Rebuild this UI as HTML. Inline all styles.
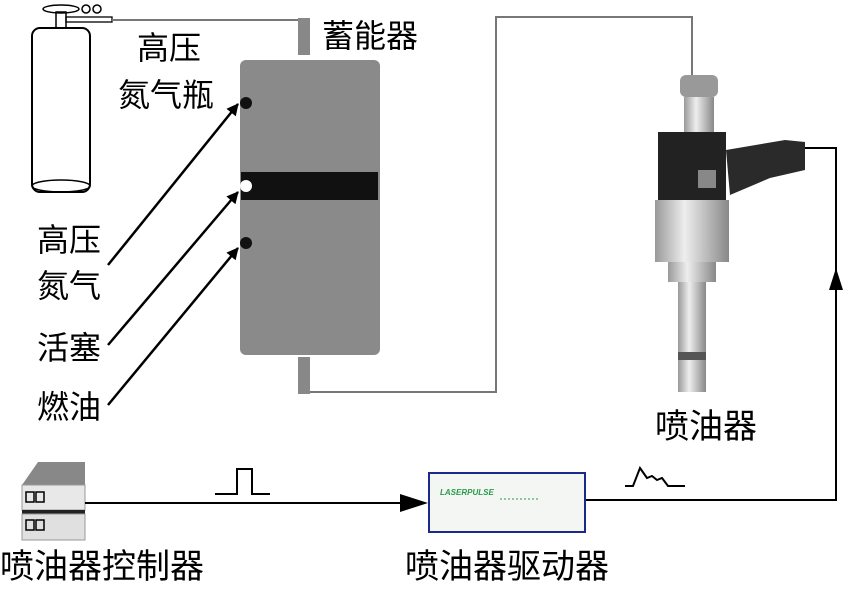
<!DOCTYPE html>
<html><head><meta charset="utf-8"><style>
body{margin:0;background:#fff}
svg{display:block}
text{font-family:"Liberation Sans","Noto Sans CJK SC",sans-serif;fill:#000}
</style></head><body>
<svg width="850" height="589" viewBox="0 0 850 589" xmlns="http://www.w3.org/2000/svg">
<defs><marker id="ah" markerWidth="12" markerHeight="12" refX="11" refY="6" orient="auto" markerUnits="userSpaceOnUse"><path d="M0,0 L12,6 L0,12 z" fill="#000"/></marker>
<linearGradient id="met" x1="0" x2="1"><stop offset="0" stop-color="#999"/><stop offset=".4" stop-color="#eee"/><stop offset="1" stop-color="#888"/></linearGradient></defs>
<!-- gas bottle -->
<rect x="32" y="28" width="58" height="164" rx="8" fill="none" stroke="#000" stroke-width="2"/>
<ellipse cx="61" cy="186" rx="29" ry="6" fill="none" stroke="#000" stroke-width="1.5"/>
<rect x="56" y="12" width="10" height="16" fill="none" stroke="#000" stroke-width="1.5"/>
<ellipse cx="61" cy="9" rx="18" ry="4" fill="none" stroke="#000" stroke-width="1.5"/>
<circle cx="86" cy="9" r="4" fill="none" stroke="#000" stroke-width="1.5"/>
<circle cx="97" cy="9" r="4" fill="none" stroke="#000" stroke-width="1.5"/>
<rect x="66" y="17" width="46" height="5" fill="none" stroke="#000" stroke-width="1.3"/>
<polyline points="112,20 302,20 302,30" fill="none" stroke="#777" stroke-width="2"/>
<!-- accumulator -->
<rect x="298" y="18" width="12" height="37" fill="#888"/>
<rect x="240" y="60" width="140" height="295" rx="6" fill="#8a8a8a"/>
<rect x="241" y="172" width="137" height="28" fill="#111"/>
<circle cx="246" cy="103" r="6" fill="#111"/>
<circle cx="246" cy="186" r="6" fill="#fff"/>
<circle cx="246" cy="243" r="6" fill="#111"/>
<rect x="298" y="357" width="12" height="37" fill="#888"/>
<polyline points="310,392 496,392 496,17 692,17 692,75" fill="none" stroke="#777" stroke-width="2"/>
<!-- arrows -->
<line x1="108" y1="265" x2="238" y2="104" stroke="#000" stroke-width="2.5" marker-end="url(#ah)"/>
<line x1="108" y1="345" x2="238" y2="192" stroke="#000" stroke-width="2.5" marker-end="url(#ah)"/>
<line x1="108" y1="405" x2="238" y2="248" stroke="#000" stroke-width="2.5" marker-end="url(#ah)"/>
<!-- injector -->
<rect x="680" y="75" width="38" height="22" rx="6" fill="#999"/>
<rect x="684" y="97" width="30" height="35" fill="url(#met)"/>
<rect x="658" y="132" width="68" height="70" fill="#222"/>
<polygon points="726,150 785,140 805,142 805,170 770,178 730,195" fill="#2a2a2a"/>
<rect x="698" y="170" width="18" height="18" fill="#888"/>
<rect x="655" y="200" width="74" height="62" fill="url(#met)"/>
<rect x="668" y="262" width="48" height="20" fill="url(#met)"/>
<rect x="678" y="282" width="28" height="110" fill="url(#met)"/>
<rect x="678" y="352" width="28" height="8" fill="#555"/>
<!-- lines right -->
<polyline points="805,148 836,148 836,500 585,500" fill="none" stroke="#000" stroke-width="2"/>
<polygon points="836,268 829,290 843,290" fill="#000"/>
<!-- controller -->
<polygon points="22,485 38,462 85,462 85,485" fill="#888"/>
<rect x="22" y="485" width="63" height="25" fill="#e8e8e8" stroke="#999"/>
<rect x="22" y="510" width="63" height="4" fill="#222"/>
<rect x="22" y="514" width="63" height="26" fill="#e0e0e0" stroke="#999"/>
<rect x="26" y="492" width="8" height="10" fill="none" stroke="#000" stroke-width="1.5"/><rect x="36" y="492" width="8" height="10" fill="none" stroke="#000" stroke-width="1.5"/>
<rect x="26" y="520" width="8" height="10" fill="none" stroke="#000" stroke-width="1.5"/><rect x="36" y="520" width="8" height="10" fill="none" stroke="#000" stroke-width="1.5"/>
<line x1="85" y1="503" x2="420" y2="503" stroke="#000" stroke-width="2"/>
<polygon points="400,494 428,503 400,512" fill="#000"/>
<polyline points="215,494 237,494 237,469 252,469 252,494 270,494" fill="none" stroke="#000" stroke-width="2"/>
<!-- driver -->
<rect x="429" y="473" width="156" height="59" fill="#f4f6f4" stroke="#1a2a8a" stroke-width="2"/>
<text x="440" y="495" font-size="8" fill="#2a9a4a" style="fill:#2a9a4a;font-style:italic;font-weight:bold">LASERPULSE</text>
<line x1="500" y1="499" x2="540" y2="499" stroke="#2a9a4a" stroke-width="1" stroke-dasharray="2,2"/>
<polyline points="625,486 633,486 640,468 647,478 652,476 657,480 662,478 668,486 685,486" fill="none" stroke="#000" stroke-width="2"/>
<!-- labels -->
<text x="322" y="47" font-size="32">蓄能器</text>
<text x="137" y="59" font-size="32">高压</text>
<text x="118" y="106" font-size="32">氮气瓶</text>
<text x="37" y="251" font-size="32">高压</text>
<text x="37" y="297" font-size="32">氮气</text>
<text x="37" y="359" font-size="32">活塞</text>
<text x="37" y="418" font-size="32">燃油</text>
<text x="655" y="438" font-size="34">喷油器</text>
<text x="0" y="578" font-size="34">喷油器控制器</text>
<text x="405" y="578" font-size="34">喷油器驱动器</text>
</svg>
</body></html>
